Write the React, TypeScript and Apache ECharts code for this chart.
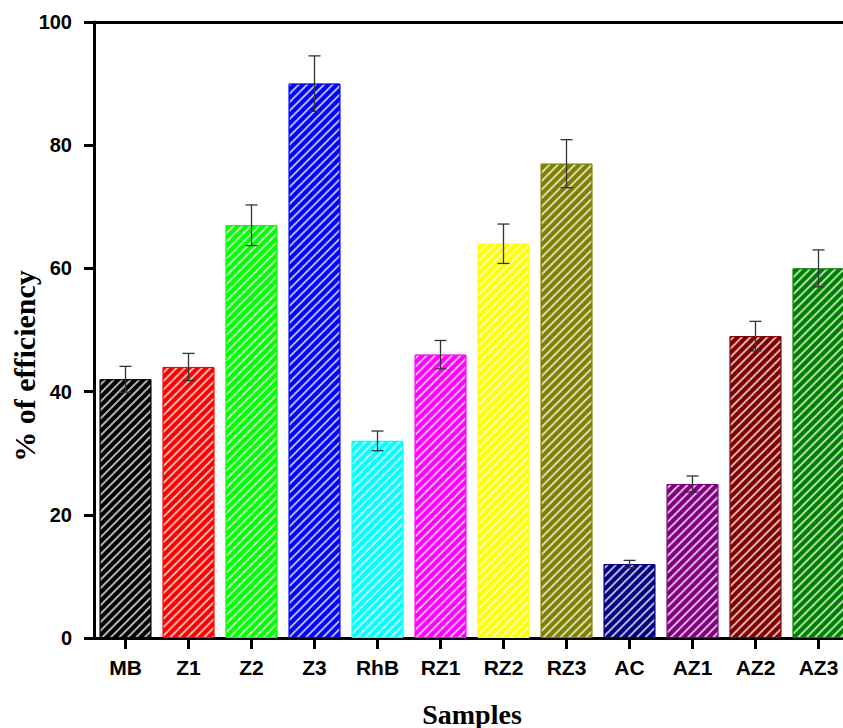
import React, { useEffect, useRef } from "react";
import * as echarts from "echarts";

const categories = ["MB", "Z1", "Z2", "Z3", "RhB", "RZ1", "RZ2", "RZ3", "AC", "AZ1", "AZ2", "AZ3"];
const values = [42, 44, 67, 90, 32, 46, 64, 77, 12, 25, 49, 60];
const errors = [2.1, 2.2, 3.3, 4.5, 1.6, 2.3, 3.2, 3.9, 0.6, 1.3, 2.4, 3.0];
const colors = ["#000000", "#ff0000", "#00ff00", "#0000ff", "#00ffff", "#ff00ff", "#ffff00", "#808000", "#000080", "#800080", "#800000", "#008000"];
const yTicks = [0, 20, 40, 60, 80, 100];

export default function App() {
  const ref = useRef<HTMLDivElement>(null);
  useEffect(() => {
    if (!ref.current) return;
    const chart = echarts.init(ref.current, null, { renderer: "svg" });
    const labelFont = { fontFamily: "Liberation Sans, Arial, sans-serif", fontWeight: "bold" as const, color: "#000" };
    chart.setOption({
      animation: false,
      backgroundColor: "#ffffff",
      grid: { left: 94, width: 756, top: 22, height: 616, outerBoundsMode: "none", containLabel: false },
      xAxis: [
        {
          type: "category",
          data: categories,
          position: "bottom",
          axisLine: { show: true, lineStyle: { color: "#000", width: 3 } },
          axisTick: { show: true, alignWithLabel: true, length: 11, lineStyle: { color: "#000", width: 3 } },
          axisLabel: { ...labelFont, fontSize: 21, margin: 19 },
        },
        {
          type: "category",
          data: categories,
          position: "top",
          axisLine: { show: true, lineStyle: { color: "#000", width: 3 } },
          axisTick: { show: false },
          axisLabel: { show: false },
        },
      ],
      yAxis: {
        type: "value",
        min: 0,
        max: 100,
        interval: 20,
        axisLine: { show: true, lineStyle: { color: "#000", width: 3 } },
        axisTick: { show: true, length: 10, lineStyle: { color: "#000", width: 3 } },
        axisLabel: { ...labelFont, fontSize: 20, margin: 22, formatter: (v: number) => (yTicks.includes(v) ? String(v) : "") },
        splitLine: { show: false },
      },
      graphic: [
        {
          type: "text",
          x: 24,
          y: 366,
          rotation: Math.PI / 2,
          style: {
            text: "% of efficiency",
            font: "bold 30px 'Liberation Serif', 'Times New Roman', serif",
            fill: "#000",
            align: "center",
            verticalAlign: "middle",
          },
        },
        {
          type: "text",
          x: 472,
          y: 714,
          style: {
            text: "Samples",
            font: "bold 28px 'Liberation Serif', 'Times New Roman', serif",
            fill: "#000",
            align: "center",
            verticalAlign: "middle",
          },
        },
      ],
      series: [
        {
          type: "bar",
          barWidth: "82%",
          data: values.map((v, i) => ({
            value: v,
            itemStyle: {
              color: colors[i],
              borderColor: colors[i],
              borderWidth: 1,
              decal: {
                symbol: "rect",
                symbolSize: 1,
                dashArrayX: [1, 0],
                dashArrayY: [1.3, 3.4],
                rotation: -Math.PI / 4,
                color: "rgba(255,255,255,0.7)",
              },
            },
          })),
        },
        {
          type: "custom",
          data: values.map((v, i) => [i, v - errors[i], v + errors[i]]),
          renderItem: (params: any, api: any) => {
            const x = api.value(0);
            const lo = api.coord([x, api.value(1)]);
            const hi = api.coord([x, api.value(2)]);
            const half = 6;
            const style = { stroke: "#333", lineWidth: 1.3 };
            return {
              type: "group",
              children: [
                { type: "line", shape: { x1: lo[0], y1: lo[1], x2: hi[0], y2: hi[1] }, style },
                { type: "line", shape: { x1: hi[0] - half, y1: hi[1], x2: hi[0] + half, y2: hi[1] }, style },
                { type: "line", shape: { x1: lo[0] - half, y1: lo[1], x2: lo[0] + half, y2: lo[1] }, style },
              ],
            };
          },
          z: 10,
        },
      ],
    });
    return () => chart.dispose();
  }, []);
  return <div ref={ref} style={{ position: "fixed", left: 0, top: 0, width: 843, height: 728 }} />;
}
